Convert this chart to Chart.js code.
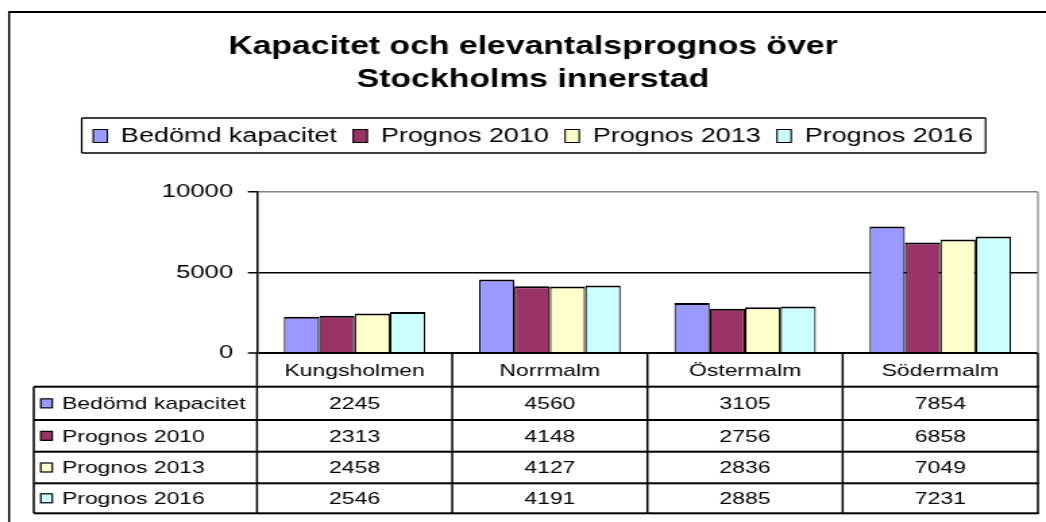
<!DOCTYPE html>
<html>
<head>
<meta charset="utf-8">
<script src="https://cdn.jsdelivr.net/npm/chart.js@4"></script>
<style>
  html, body { margin: 0; padding: 0; background: #fff; }
  canvas { display: block; }
</style>
</head>
<body>
<!-- drawn narrow and stretched sideways, like the original picture -->
<canvas id="grafik" width="775" height="522" style="width:1046px;height:522px"></canvas>
<script>
const categories = ["Kungsholmen", "Norrmalm", "Östermalm", "Södermalm"];
const seriesNames = ["Bedömd kapacitet", "Prognos 2010", "Prognos 2013", "Prognos 2016"];
const bedomdKapacitet = [2245, 4560, 3105, 7854];
const prognos2010 = [2313, 4148, 2756, 6858];
const prognos2013 = [2458, 4127, 2836, 7049];
const prognos2016 = [2546, 4191, 2885, 7231];
const yMin = 0;
const yMax = 10000;
const yStep = 5000;

const seriesValues = [bedomdKapacitet, prognos2010, prognos2013, prognos2016];
const seriesColors = ["#9999ff", "#993366", "#ffffcc", "#ccffff"];
const FONT = "'Liberation Sans', Arial, sans-serif";

function hLine(ctx, x1, x2, y, w, color) {
  ctx.fillStyle = color;
  ctx.fillRect(x1, y - w / 2, x2 - x1, w);
}
function vLine(ctx, x, y1, y2, w, color) {
  ctx.fillStyle = color;
  ctx.fillRect(x - w / 2, y1, w, y2 - y1);
}

// frame, legend box, plot border and the data table under the axis
const tabellPlugin = {
  id: "tabell",
  afterInit(chart) {
    // extra room between legend and plot area
    const legend = chart.legend;
    const fit = legend.fit;
    legend.fit = function () {
      fit.call(this);
      this.height += 36;
    };
  },
  afterDraw(chart) {
    const ctx = chart.ctx;
    const area = chart.chartArea;
    const xs = chart.scales.x;
    const step = (area.right - area.left) / categories.length;
    const rowLines = [386.7, 420, 451.7, 483.3, 513.3];
    const tableLeft = 25;

    ctx.save();
    // outer chart frame (right and bottom fall outside the picture)
    hLine(ctx, 6, 800, 12, 2, "#000");
    vLine(ctx, 6.7, 11, 600, 1.5, "#000");

    // legend frame
    const boxes = chart.legend.legendHitBoxes;
    const first = boxes[0];
    const last = boxes[boxes.length - 1];
    const lx1 = first.left - 8.5;
    const lx2 = last.left + last.width + 9.5;
    hLine(ctx, lx1, lx2, 118, 1.5, "#000");
    hLine(ctx, lx1, lx2, 153, 1.5, "#000");
    vLine(ctx, lx1, 118, 153, 1.2, "#000");
    vLine(ctx, lx2, 118, 153, 1.2, "#000");

    // plot area right border
    vLine(ctx, area.right, area.top, area.bottom, 1.2, "#808080");

    // table grid
    for (let k = 0; k <= categories.length; k++) {
      vLine(ctx, area.left + k * step, area.bottom, rowLines[rowLines.length - 1], 1.5, "#000");
    }
    vLine(ctx, tableLeft, rowLines[0], rowLines[rowLines.length - 1], 1.5, "#000");
    rowLines.forEach(y => hLine(ctx, tableLeft, area.right + 0.75, y, 2, "#000"));

    ctx.font = "17px " + FONT;
    ctx.textBaseline = "middle";
    ctx.fillStyle = "#000";
    ctx.textAlign = "center";
    const headY = (area.bottom + rowLines[0]) / 2;
    categories.forEach((c, i) => ctx.fillText(c, xs.getPixelForValue(i), headY + 1));

    seriesNames.forEach((name, r) => {
      const yc = (rowLines[r] + rowLines[r + 1]) / 2;
      ctx.fillStyle = seriesColors[r];
      ctx.fillRect(30.2, yc - 4.5, 8.5, 9);
      ctx.strokeStyle = "#000";
      ctx.lineWidth = 1.2;
      ctx.strokeRect(30.2, yc - 4.5, 8.5, 9);
      ctx.fillStyle = "#000";
      ctx.textAlign = "left";
      ctx.fillText(name, 45.9, yc + 1);
      ctx.textAlign = "center";
      seriesValues[r].forEach((v, i) => ctx.fillText(String(v), xs.getPixelForValue(i), yc + 1));
    });
    ctx.restore();
  }
};

new Chart(document.getElementById("grafik"), {
  type: "bar",
  data: {
    labels: categories,
    datasets: seriesNames.map((name, i) => ({
      label: name,
      data: seriesValues[i],
      backgroundColor: seriesColors[i],
      borderColor: "#000",
      borderWidth: { top: 2, left: 1.2, right: 1.2, bottom: 0 },
      categoryPercentage: 0.725,
      barPercentage: 1
    }))
  },
  options: {
    responsive: false,
    animation: false,
    layout: { padding: { top: 10, left: 20.8, right: 6, bottom: 169 } },
    scales: {
      x: { display: false },
      y: {
        min: yMin,
        max: yMax,
        ticks: {
          stepSize: yStep,
          color: "#000",
          padding: 11,
          font: { family: FONT, size: 19 },
          callback: v => String(v)
        },
        grid: {
          color: c => (c.tick && c.tick.value === yMax ? "#808080" : "#000"),
          lineWidth: c => (c.tick && c.tick.value === yMin ? 2 : 1.5),
          tickColor: "#000",
          tickLength: 6.7,
          tickWidth: 1.5
        },
        border: { color: "#000", width: 1.5 },
        afterFit: scale => { scale.width = 169.6; }
      }
    },
    plugins: {
      tooltip: { enabled: false },
      title: {
        display: true,
        text: ["Kapacitet och elevantalsprognos över", "Stockholms innerstad"],
        color: "#000",
        font: { family: FONT, size: 25, weight: "bold", lineHeight: 1.34 },
        padding: { top: 20, bottom: 17 }
      },
      legend: {
        display: true,
        position: "top",
        labels: {
          color: "#000",
          font: { family: FONT, size: 20 },
          boxWidth: 10.5,
          boxHeight: 13,
          padding: 12
        }
      }
    }
  },
  plugins: [tabellPlugin]
});
</script>
</body>
</html>
